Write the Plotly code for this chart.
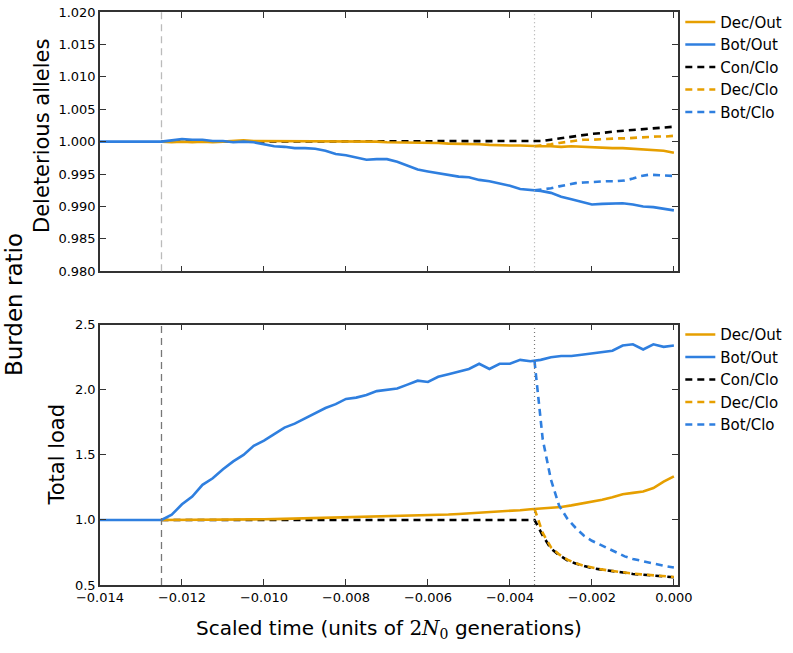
import plotly.graph_objects as go
from plotly.subplots import make_subplots

# ---------------- data ----------------
time_out = [-0.014, -0.0125, -0.01225, -0.012, -0.01175, -0.0115, -0.01125, -0.011, -0.01075,
            -0.0105, -0.01025, -0.01, -0.00975, -0.0095, -0.00925, -0.009, -0.00875, -0.0085,
            -0.00825, -0.008, -0.00775, -0.0075, -0.00725, -0.007, -0.00675, -0.0065, -0.00625,
            -0.006, -0.00575, -0.0055, -0.00525, -0.005, -0.00475, -0.0045, -0.00425, -0.004,
            -0.00375, -0.0035, -0.00325, -0.003, -0.00275, -0.0025, -0.00225, -0.002, -0.00175,
            -0.0015, -0.00125, -0.001, -0.00075, -0.0005, -0.00025, 0.0]

time_clo = [-0.0034, -0.0032, -0.003, -0.0028, -0.0026, -0.0024, -0.0022, -0.002, -0.0018,
            -0.0016, -0.0014, -0.0012, -0.001, -0.0008, -0.0006, -0.0004, -0.0002, 0.0]

time_con_start = [-0.0125]

# Top panel: deleterious alleles
del_dec_out = [1.0000, 1.0000, 0.9999, 1.0000, 0.9999, 1.0000, 0.9999, 1.0000, 1.0001, 1.0002,
               1.0001, 1.0001, 1.0000, 1.0000, 1.0001, 1.0000, 1.0000, 1.0000, 1.0000, 1.0001,
               1.0000, 1.0000, 1.0000, 0.9999, 0.9999, 0.9999, 0.9998, 0.9998, 0.9998, 0.9997,
               0.9997, 0.9996, 0.9996, 0.9995, 0.9994, 0.9994, 0.9994, 0.9993, 0.9993, 0.9993,
               0.9992, 0.9993, 0.9992, 0.9991, 0.9991, 0.9990, 0.9990, 0.9989, 0.9989, 0.9988,
               0.9986, 0.9983]
del_bot_out = [1.0000, 1.0000, 1.0002, 1.0004, 1.0003, 1.0003, 1.0001, 1.0001, 0.9999, 1.0000,
               0.9999, 0.9996, 0.9993, 0.9992, 0.9990, 0.9990, 0.9989, 0.9986, 0.9981, 0.9979,
               0.9976, 0.9972, 0.9973, 0.9973, 0.9969, 0.9963, 0.9957, 0.9954, 0.9951, 0.9948,
               0.9946, 0.9945, 0.9941, 0.9939, 0.9936, 0.9932, 0.9927, 0.9926, 0.9924, 0.9921,
               0.9915, 0.9911, 0.9907, 0.9903, 0.9904, 0.9905, 0.9905, 0.9903, 0.9900, 0.9899,
               0.9897, 0.9894]
del_con_clo = [1.0000, 1.0000, 1.0001, 1.0003, 1.0005, 1.0007, 1.0009, 1.0010, 1.0012, 1.0013,
               1.0015, 1.0016, 1.0017, 1.0018, 1.0019, 1.0020, 1.0021, 1.0022, 1.0023]
del_dec_clo = [0.9993, 0.9994, 0.9996, 0.9998, 1.0000, 1.0002, 1.0003, 1.0003, 1.0004, 1.0004,
               1.0005, 1.0005, 1.0006, 1.0007, 1.0007, 1.0008, 1.0008, 1.0009]
del_bot_clo = [0.9925, 0.9926, 0.9928, 0.9931, 0.9934, 0.9936, 0.9937, 0.9938, 0.9939, 0.9939,
               0.9939, 0.9940, 0.9943, 0.9947, 0.9949, 0.9948, 0.9947, 0.9947]

# Bottom panel: total load
load_dec_out = [1.000, 1.000, 1.000, 1.001, 1.000, 1.001, 1.000, 1.002, 1.003, 1.004, 1.005,
                1.005, 1.006, 1.008, 1.010, 1.012, 1.014, 1.017, 1.016, 1.020, 1.022, 1.024,
                1.026, 1.028, 1.030, 1.032, 1.034, 1.036, 1.039, 1.042, 1.046, 1.050, 1.057,
                1.060, 1.065, 1.070, 1.075, 1.082, 1.088, 1.093, 1.100, 1.112, 1.125, 1.140,
                1.155, 1.175, 1.198, 1.208, 1.218, 1.245, 1.295, 1.335]
load_bot_out = [1.00, 1.00, 1.04, 1.12, 1.18, 1.27, 1.32, 1.39, 1.45, 1.50, 1.57, 1.61, 1.66,
                1.71, 1.74, 1.78, 1.82, 1.86, 1.89, 1.93, 1.94, 1.96, 1.99, 2.00, 2.01, 2.04,
                2.07, 2.06, 2.10, 2.12, 2.14, 2.16, 2.20, 2.16, 2.20, 2.20, 2.23, 2.22, 2.23,
                2.25, 2.26, 2.26, 2.27, 2.28, 2.29, 2.30, 2.34, 2.35, 2.31, 2.35, 2.33, 2.34]
load_con_clo = [1.00, 1.00, 0.88, 0.78, 0.73, 0.69, 0.665, 0.645, 0.63, 0.62, 0.61, 0.60, 0.595,
                0.585, 0.58, 0.575, 0.57, 0.565, 0.56]
load_dec_clo = [1.085, 0.90, 0.79, 0.735, 0.695, 0.668, 0.648, 0.633, 0.622, 0.612, 0.603, 0.596,
                0.588, 0.582, 0.577, 0.572, 0.567, 0.562]
load_bot_clo = [2.22, 1.62, 1.31, 1.11, 1.01, 0.94, 0.88, 0.84, 0.81, 0.78, 0.75, 0.72, 0.70,
                0.685, 0.67, 0.655, 0.645, 0.635]

series_names = ["Dec/Out", "Bot/Out", "Con/Clo", "Dec/Clo", "Bot/Clo"]
bottleneck_time = -0.0125
closure_time = -0.0034

x_ticks = [-0.014, -0.012, -0.010, -0.008, -0.006, -0.004, -0.002, 0.000]
top_ticks = [0.980, 0.985, 0.990, 0.995, 1.000, 1.005, 1.010, 1.015, 1.020]
bottom_ticks = [0.5, 1.0, 1.5, 2.0, 2.5]

# ---------------- style ----------------
ORANGE = "#E69F00"
BLUE = "#2F7FDF"
BLACK = "#000000"
LW = 2.6
DASH = "7px,5px"
FONT = "DejaVu Sans"

fig = make_subplots(rows=2, cols=1, shared_xaxes=False, vertical_spacing=0.0933)

time_con = time_con_start + time_clo

panels = [
    (1, "legend", del_dec_out, del_bot_out, del_con_clo, del_dec_clo, del_bot_clo),
    (2, "legend2", load_dec_out, load_bot_out, load_con_clo, load_dec_clo, load_bot_clo),
]

for row, leg, dec_out, bot_out, con_clo, dec_clo, bot_clo in panels:
    # drawing order: Con/Clo under the outbred lines
    fig.add_trace(go.Scatter(x=time_con, y=con_clo, mode="lines", name=series_names[2],
                             line=dict(color=BLACK, width=LW, dash=DASH), legend=leg,
                             legendrank=3), row=row, col=1)
    fig.add_trace(go.Scatter(x=time_out[1:], y=dec_out[1:], mode="lines", name=series_names[0],
                             line=dict(color=ORANGE, width=LW), legend=leg, legendrank=1),
                  row=row, col=1)
    fig.add_trace(go.Scatter(x=time_out, y=bot_out, mode="lines", name=series_names[1],
                             line=dict(color=BLUE, width=LW), legend=leg, legendrank=2),
                  row=row, col=1)
    fig.add_trace(go.Scatter(x=time_clo, y=dec_clo, mode="lines", name=series_names[3],
                             line=dict(color=ORANGE, width=LW, dash=DASH), legend=leg,
                             legendrank=4), row=row, col=1)
    fig.add_trace(go.Scatter(x=time_clo, y=bot_clo, mode="lines", name=series_names[4],
                             line=dict(color=BLUE, width=LW, dash=DASH), legend=leg,
                             legendrank=5), row=row, col=1)

axis_common = dict(showline=True, linecolor="#333333", linewidth=1.5, mirror="ticks",
                   ticks="inside", ticklen=6, tickwidth=1, tickcolor="#333333",
                   showgrid=False, zeroline=False, automargin=False,
                   tickfont=dict(family=FONT, size=13, color="#000000"))

fig.update_xaxes(range=[-0.014, 0.0001], tickvals=x_ticks, tickformat=".3f", **axis_common)
fig.update_xaxes(showticklabels=False, row=1, col=1)
fig.update_yaxes(range=[0.980, 1.020], tickvals=top_ticks, tickformat=".3f", row=1, col=1,
                 ticklabeloverflow="allow", **axis_common)
fig.update_yaxes(range=[0.5, 2.5], tickvals=bottom_ticks, tickformat=".1f", row=2, col=1,
                 **axis_common)

fig.update_layout(
    xaxis=dict(domain=[0, 1]), xaxis2=dict(domain=[0, 1]),
    yaxis=dict(domain=[0.5475, 1.0]), yaxis2=dict(domain=[0.0, 0.4542]),
)

# vertical marker lines
fig.add_shape(type="line", xref="x", yref="y domain", x0=bottleneck_time, x1=bottleneck_time,
              y0=0, y1=1, line=dict(color="#BBBBBB", width=1.3, dash="7px,5px"))
fig.add_shape(type="line", xref="x2", yref="y2 domain", x0=bottleneck_time, x1=bottleneck_time,
              y0=0, y1=1, line=dict(color="#777777", width=1.3, dash="7px,5px"))
fig.add_shape(type="line", xref="x", yref="y domain", x0=closure_time, x1=closure_time,
              y0=0, y1=1, line=dict(color="#AAAAAA", width=1.2, dash="1px,3px"))
fig.add_shape(type="line", xref="x2", yref="y2 domain", x0=closure_time, x1=closure_time,
              y0=0, y1=1, line=dict(color="#777777", width=1.2, dash="1px,3px"))

legend_common = dict(xanchor="left", yanchor="top", bgcolor="rgba(0,0,0,0)",
                     font=dict(family=FONT, size=15, color="#000000"), itemwidth=30,
                     traceorder="normal", tracegroupgap=0)
fig.update_layout(legend=dict(x=1.004, y=1.011, **legend_common),
                  legend2=dict(x=1.004, y=0.4655, **legend_common))

# titles
fig.add_annotation(text="Burden ratio", xref="paper", yref="paper", x=-0.149, y=0.49,
                   textangle=-90, showarrow=False, xanchor="center", yanchor="middle",
                   font=dict(family=FONT, size=23, color="#000000"))
fig.add_annotation(text="Deleterious alleles", xref="paper", yref="paper", x=-0.1, y=0.784,
                   textangle=-90, showarrow=False, xanchor="center", yanchor="middle",
                   font=dict(family=FONT, size=21, color="#000000"))
fig.add_annotation(text="Total load", xref="paper", yref="paper", x=-0.074, y=0.228,
                   textangle=-90, showarrow=False, xanchor="center", yanchor="middle",
                   font=dict(family=FONT, size=21, color="#000000"))
fig.add_annotation(
    text="Scaled time (units of <span style=\"font-family:'DejaVu Serif'\">2<i>N</i><sub>0</sub></span> generations)",
    xref="paper", yref="paper", x=0.5, y=-0.076, showarrow=False,
    xanchor="center", yanchor="middle", font=dict(family=FONT, size=20, color="#000000"))

fig.update_layout(width=793, height=653, margin=dict(l=100, r=113, t=6, b=68),
                  plot_bgcolor="white", paper_bgcolor="white", showlegend=True,
                  font=dict(family=FONT))

# remove the page's default 8px body margin so the figure fills the window exactly
fig.write_html("out.html", config={"displayModeBar": False},
               post_script="document.body.style.margin='0';document.body.style.overflow='hidden';")
